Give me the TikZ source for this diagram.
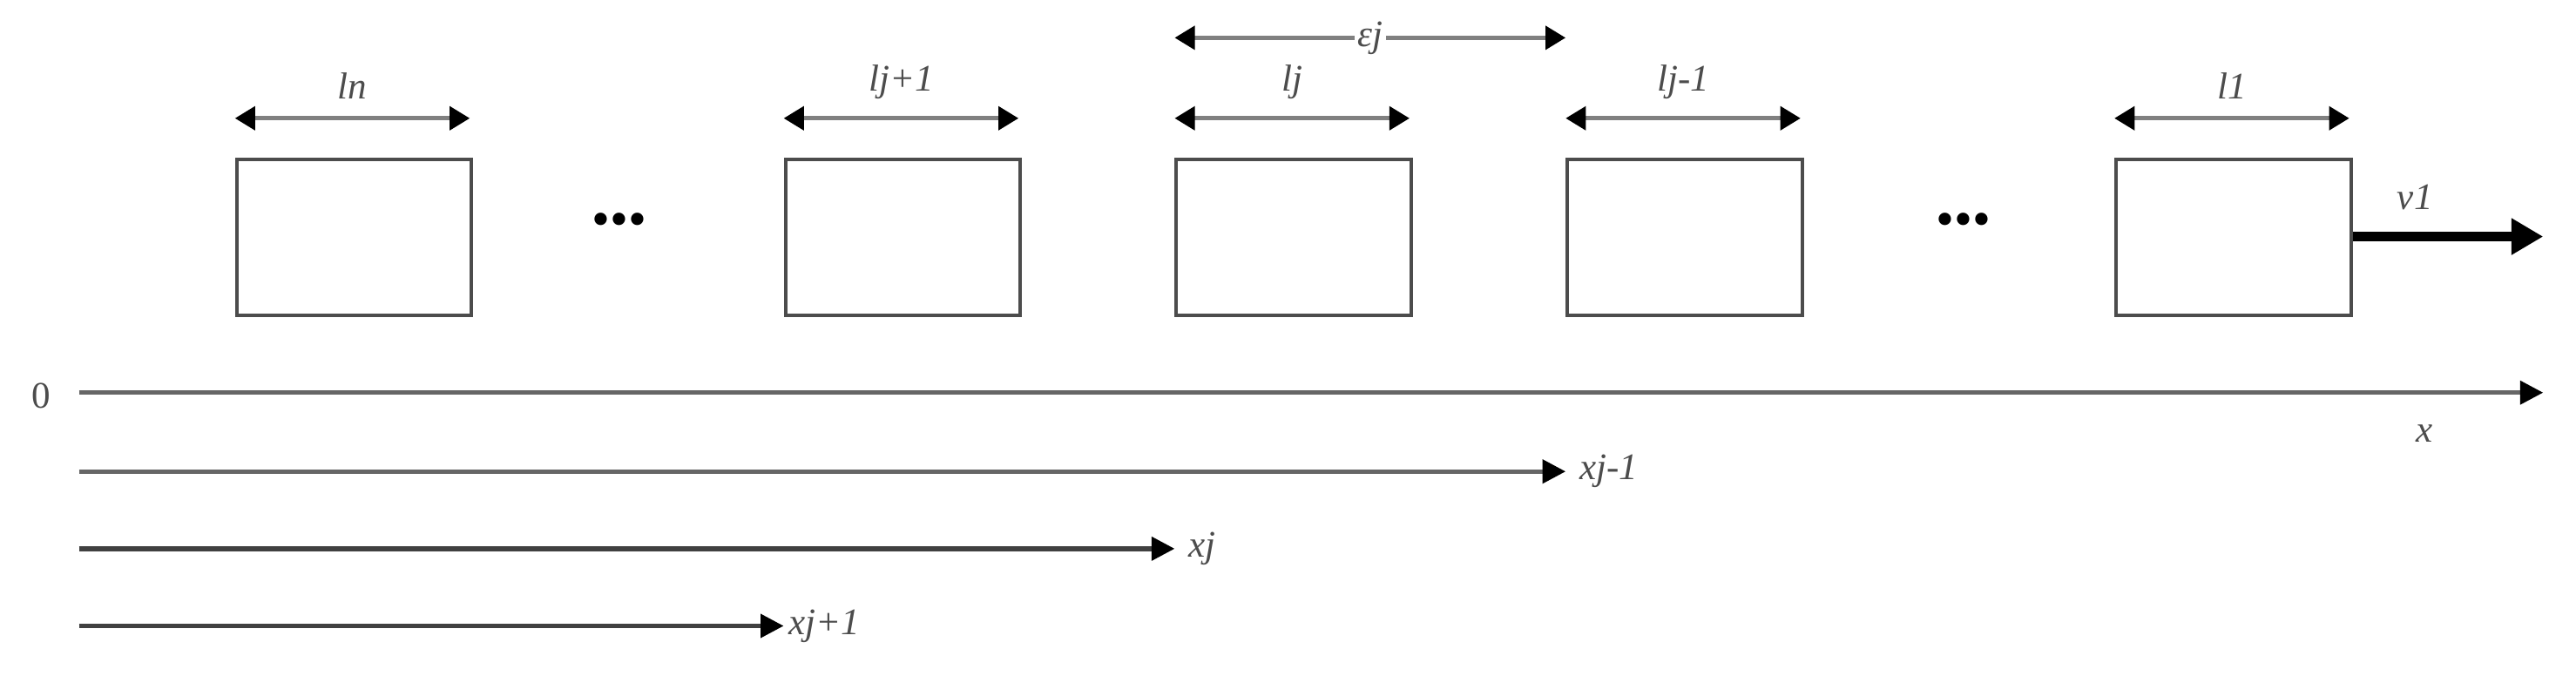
\documentclass[tikz,border=0pt]{standalone}
\usepackage{fontspec}
\setmainfont{Liberation Serif}
\usetikzlibrary{arrows.meta}
\begin{document}
\begin{tikzpicture}[x=0.02cm,y=-0.02cm,
  car/.style={draw=black!70,line width=1.2pt,minimum width=2.86cm,minimum height=1.9cm,inner sep=0pt},
  dim/.style={draw=gray,line width=1.6pt,{Triangle[black,length=7pt,width=8pt]}-{Triangle[black,length=7pt,width=8pt]}},
  axis/.style={draw=black!60,line width=1.6pt,-{Triangle[black,length=8pt,width=8pt]}},
  lab/.style={font=\itshape\fontsize{13}{15}\selectfont,text=black!70,inner sep=1pt}]
\useasboundingbox (0,0) rectangle (1568,411);
\foreach \n/\x in {cn/143,cj1/477,cj/715,cjm/953,c1/1287}{
  \node[car,anchor=north west] (\n) at (\x,96) {};
  \coordinate (\n L) at (\x,72);
  \coordinate (\n R) at (\x+143,72);
}
\draw[dim] (cnL) -- node[lab,above=5pt]{ln} (cnR);
\draw[dim] (cj1L) -- node[lab,above=5pt]{lj+1} (cj1R);
\draw[dim] (cjL) -- node[lab,above=5pt]{lj} (cjR);
\draw[dim] (cjmL) -- node[lab,above=5pt]{lj-1} (cjmR);
\draw[dim] (c1L) -- node[lab,above=5pt]{l1} (c1R);
\coordinate (eL) at (715,23); \coordinate (eR) at (953,23);
\draw[dim] (eL) -- node[lab,fill=white]{εj} (eR);
\node[font=\fontsize{18}{20}\selectfont] (d1) at (377,137) {•••};
\node[font=\fontsize{18}{20}\selectfont] (d2) at (1195,137) {•••};
\coordinate (vE) at (1548,144);
\draw[line width=3.5pt,-{Triangle[length=11pt,width=12pt]}] (c1.east|-vE) -- (vE);
\node[lab] (v) at (1470,120) {v1};
\node[font=\fontsize{13}{15}\selectfont,text=black!70] (z) at (25,241) {0};
\coordinate (o0) at (48,239); \coordinate (oX) at (1548,239);
\draw[axis] (o0) -- (oX);
\node[lab] (xl) at (1476,264) {x};
\coordinate (a0) at (48,287); \coordinate (aE) at (953,287);
\draw[axis] (a0) -- (aE) node[lab,right=3pt] (xa) {xj-1};
\coordinate (b0) at (48,334); \coordinate (bE) at (715,334);
\draw[axis,draw=black!75] (b0) -- (bE) node[lab,right=3pt] (xb) {xj};
\coordinate (c0) at (48,381); \coordinate (cE) at (477,381);
\draw[axis,draw=black!75] (c0) -- (cE) node[lab,right=0pt] (xc) {xj+1};
\end{tikzpicture}
\end{document}
